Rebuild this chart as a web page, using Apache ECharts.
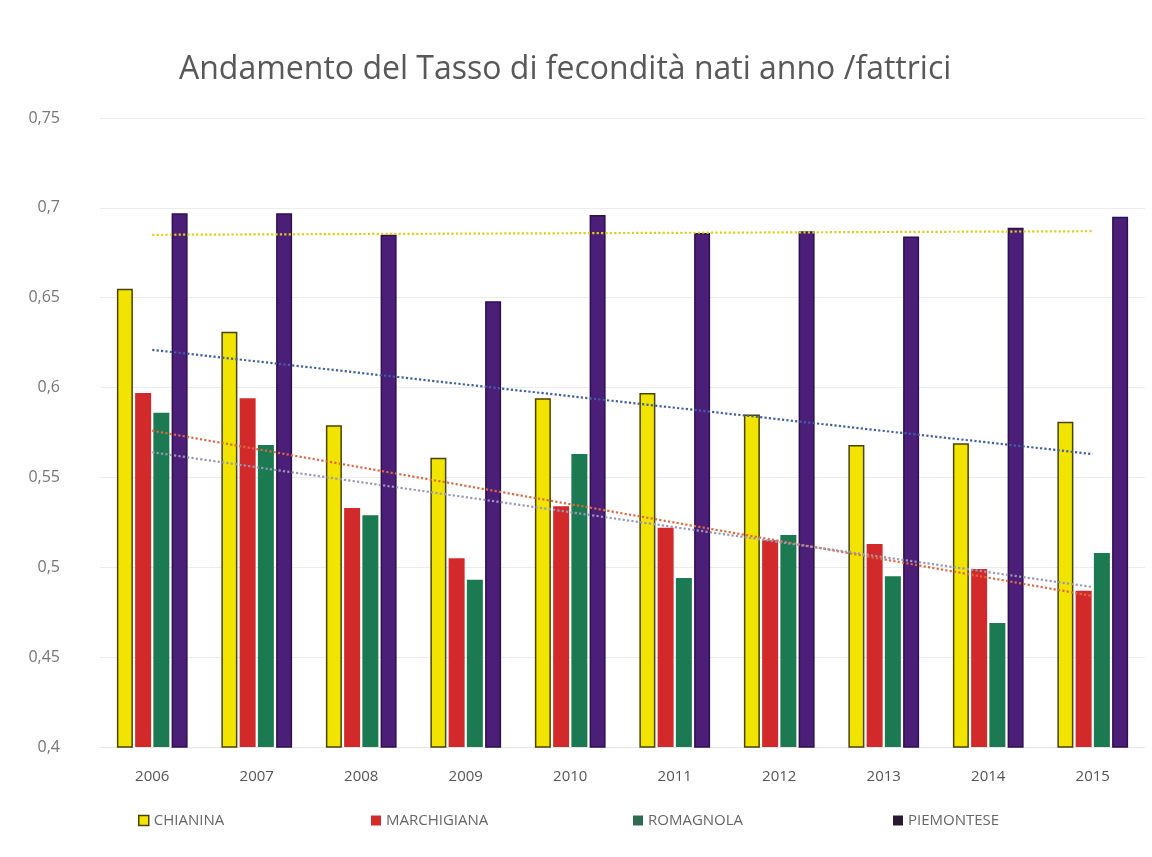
<!DOCTYPE html>
<html>
<head>
<meta charset="utf-8">
<script src="https://cdn.jsdelivr.net/npm/echarts@6/dist/echarts.min.js"></script>
<style>
html,body{margin:0;padding:0;background:#fff;}
#c{width:1152px;height:857px;}
</style>
</head>
<body>
<div id="c"></div>
<script>
// ---- data ----
const years = ['2006','2007','2008','2009','2010','2011','2012','2013','2014','2015'];
const chianina    = [0.655,0.631,0.579,0.561,0.594,0.597,0.585,0.568,0.569,0.581];
const marchigiana = [0.597,0.594,0.533,0.505,0.534,0.522,0.515,0.513,0.499,0.487];
const romagnola   = [0.586,0.568,0.529,0.493,0.563,0.494,0.518,0.495,0.469,0.508];
const piemontese  = [0.697,0.697,0.685,0.648,0.696,0.686,0.687,0.684,0.689,0.695];
// trend lines (first year value, last year value)
const trendChianina    = [0.621, 0.563];
const trendMarchigiana = [0.576, 0.484];
const trendRomagnola   = [0.564, 0.489];
const trendPiemontese  = [0.685, 0.687];
const yTicks = [0.4,0.45,0.5,0.55,0.6,0.65,0.7,0.75];

const names = ['CHIANINA','MARCHIGIANA','ROMAGNOLA','PIEMONTESE'];
const colors = ['#f1e400','#d22a2a','#1b7a52','#4b1f78'];
const borders = ['#4a4200','#d22a2a','#1b7a52','#2e1050'];
const legendIcons = ['#f1e400','#d22a2a','#2f6b50','#2a1a30'];
const vals = [chianina, marchigiana, romagnola, piemontese];

const chart = echarts.init(document.getElementById('c'));
const barSeries = vals.map((v,i)=>({
  name: names[i], type:'bar', data: v, barWidth: 16, barGap: '14%',
  itemStyle:{color: colors[i], borderColor: borders[i], borderWidth: (i===0||i===3)?1.5:0},
  z: 2
}));
function trend(name, arr, color){
  return {name: name, type:'line', symbol:'none', silent:true, z:3,
    data: [[years[0], arr[0]], [years[years.length-1], arr[1]]],
    lineStyle:{type:'dotted', width:2.2, color: color}};
}
const legendLefts = [133, 366, 628, 888];
chart.setOption({
  animation:false,
  backgroundColor:'#ffffff',
  title:{text:'Andamento del Tasso di fecondità nati anno /fattrici', left:174, top:49,
    textStyle:{fontFamily:'Open Sans', fontWeight:'normal', fontSize:32, color:'#585858'}},
  legend: names.map((n,i)=>({
    data:[{name:n, itemStyle:{color: legendIcons[i], borderColor: i===0?'#4a4200':legendIcons[i], borderWidth: i===0?1.5:0}}],
    left: legendLefts[i], top: 808, itemWidth:10, itemHeight:10, itemGap:4,
    icon:'rect',
    textStyle:{fontFamily:'Open Sans', fontSize:15, color:'#666666'}
  })),
  grid:{left:100, right:7, top:118, bottom:110},
  xAxis:{type:'category', data: years,
    axisLine:{show:true, lineStyle:{color:'#e6e6e6'}}, axisTick:{show:false},
    axisLabel:{fontFamily:'Open Sans', fontSize:15, color:'#555555', margin:22}},
  yAxis:{type:'value', min:0.4, max:0.75, interval:0.05,
    axisLine:{show:false}, axisTick:{show:false},
    splitLine:{lineStyle:{color:'#ececec', width:1}},
    axisLabel:{fontFamily:'Open Sans', fontSize:16, color:'#777777', margin:40,
      formatter: v => {
        const t = yTicks.find(x=>Math.abs(x-v)<1e-6);
        return String(Number((t!==undefined?t:v).toFixed(2))).replace('.',',');
      }}},
  series: barSeries.concat([
    trend('trendP', trendPiemontese, '#e0cf10'),
    trend('trendC', trendChianina, '#3f5fa8'),
    trend('trendM', trendMarchigiana, '#e0683f'),
    trend('trendR', trendRomagnola, '#9a98b8')
  ])
});
</script>
</body>
</html>
